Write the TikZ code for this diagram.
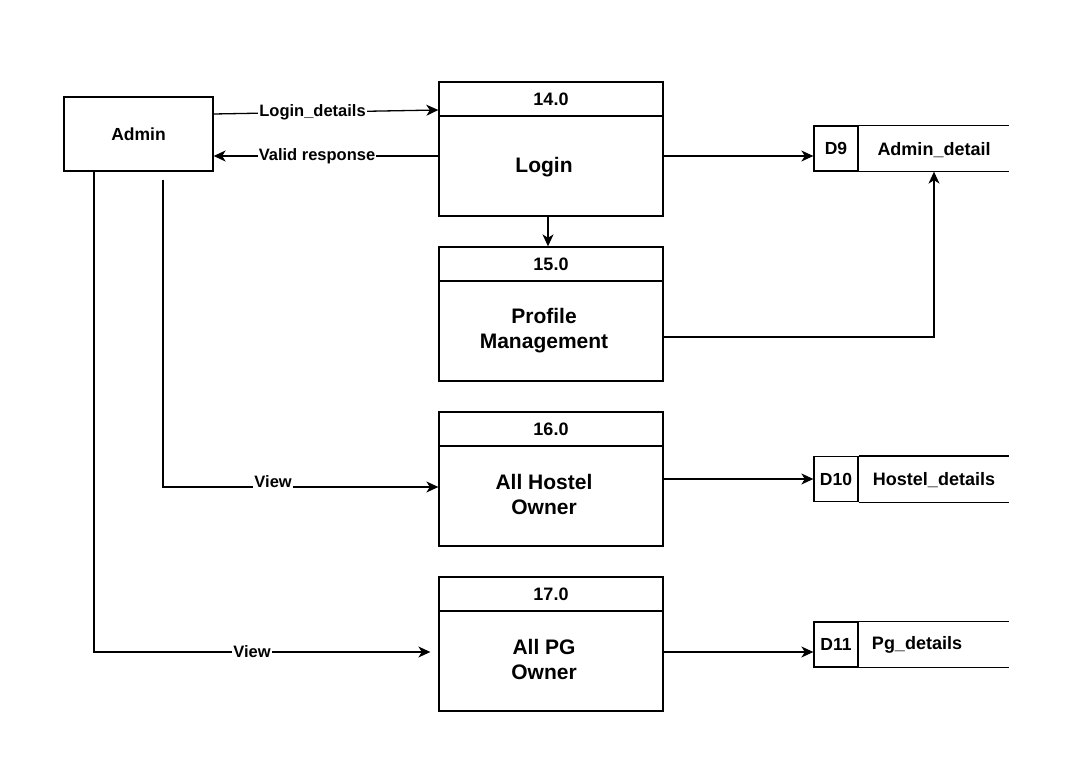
\documentclass[tikz,border=0pt]{standalone}
\usepackage{fontspec}
\setmainfont{Liberation Sans}
\usetikzlibrary{arrows.meta}

\tikzset{
	box/.style = {draw, line width=1.3pt, fill=white, inner sep=0pt},
	flow/.style = {line width=1.3pt, -{Stealth[length=12pt, width=11pt, inset=3.5pt]}},
	lbl/.style = {fill=white, inner sep=1pt, font=\fontsize{16.5}{19}\selectfont\bfseries},
	hd/.style = {box, minimum width=224pt, minimum height=34pt, font=\fontsize{18}{21}\selectfont\bfseries},
	bd/.style = {box, minimum width=224pt, minimum height=100pt},
	bdtxt/.style = {align=center, font=\fontsize{21}{25}\selectfont\bfseries},
	sid/.style = {box, minimum width=44pt, minimum height=45pt, font=\fontsize{17.5}{20}\selectfont\bfseries},
	stxt/.style = {font=\fontsize{18}{21}\selectfont\bfseries}
}

\begin{document}
\begin{tikzpicture}[x=1pt, y=-1pt]
	\useasboundingbox (0,0) rectangle (1089,775);
	% entity
	\node[box, minimum width=149pt, minimum height=74pt, font=\fontsize{17.5}{20}\selectfont\bfseries] (admin) at (138.5,134) {Admin};
	% processes
	\node[hd] (h14) at (551,99) {14.0};
	\node[bd] (p14) at (551,166) {};
		\node[bdtxt] at ([xshift=-7pt, yshift=-1pt]p14) {Login};
	\node[hd] (h15) at (551,264) {15.0};
	\node[bd] (p15) at (551,331) {};
		\node[bdtxt] at ([xshift=-7pt]p15) {Profile\\Management};
	\node[hd] (h16) at (551,429) {16.0};
	\node[bd] (p16) at (551,496) {};
		\node[bdtxt] at ([xshift=-7pt, yshift=1.5pt]p16) {All Hostel\\Owner};
	\node[hd] (h17) at (551,594) {17.0};
	\node[bd] (p17) at (551,661) {};
		\node[bdtxt] at ([xshift=-7pt, yshift=1.5pt]p17) {All PG\\Owner};
	% data stores
	\node[sid] (d9id) at (836,148.5) {D9};
		\node[stxt] (d9) at (934,150) {Admin\_detail};
		\draw[line width=1.3pt] (d9id.north east) -- +(150,0);
		\draw[line width=1.3pt] (d9id.south east) -- +(150,0);
	\node[sid] (d10id) at (836,479) {D10};
		\node[stxt] (d10) at (934,480) {Hostel\_details};
		\draw[line width=1.3pt] (d10id.north east) -- +(150,0);
		\draw[line width=1.3pt] (d10id.south east) -- +(150,0);
	\node[sid] (d11id) at (836,644.5) {D11};
		\node[stxt] (d11) at (917,645) {Pg\_details};
		\draw[line width=1.3pt] (d11id.north east) -- +(150,0);
		\draw[line width=1.3pt] (d11id.south east) -- +(150,0);
	% flows
	\draw[flow] ([yshift=20pt]admin.east) -- ([yshift=-11pt]h14.west) node[lbl, pos=0.44] {Login\_details};
	\draw[flow] ([yshift=10pt]p14.west) -- ([yshift=10pt]p14.west -| admin.east) node[lbl, pos=0.54] {Valid response};
	\draw[flow] ([yshift=10pt]p14.east) -- ([yshift=10pt]p14.east -| d9id.west);
	\draw[flow] ([xshift=-3pt]p14.south) -- ([xshift=-3pt]h15.north);
	\draw[flow] ([yshift=-6pt]p15.east) -| (d9id.south -| d9);
	\draw[flow] ([xshift=24.5pt, yshift=-8pt]admin.south) |- ([yshift=9pt]p16.west) node[lbl, pos=0.7, yshift=5pt] {View};
	\draw[flow] ([xshift=-44.5pt]admin.south) |- ([xshift=-8pt, yshift=9pt]p17.west) node[lbl, pos=0.735] {View};
	\draw[flow] (p16.east |- d10id) -- (d10id.west);
	\draw[flow] ([yshift=9pt]p17.east) -- ([yshift=9pt]p17.east -| d11id.west);
\end{tikzpicture}
\end{document}
